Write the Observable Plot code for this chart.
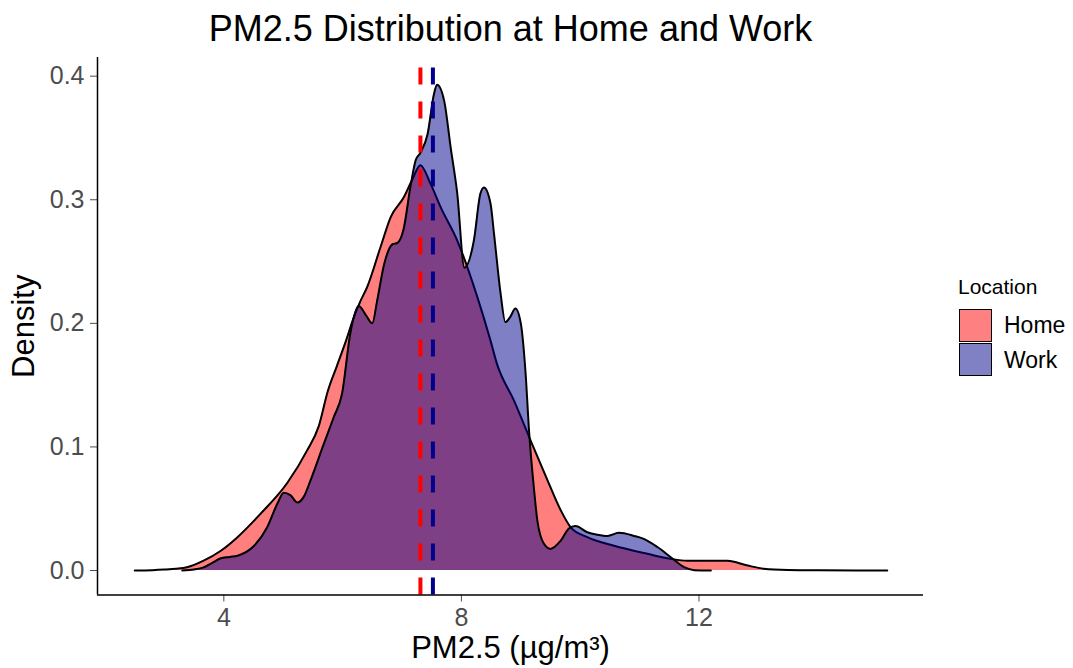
<!DOCTYPE html>
<html>
<head>
<meta charset="utf-8">
<script src="https://cdn.jsdelivr.net/npm/d3@7"></script>
<script src="https://cdn.jsdelivr.net/npm/@observablehq/plot@0.6"></script>
<style>
  html, body { margin: 0; padding: 0; background: #fff; }
  #wrap { position: relative; width: 1073px; height: 668px; font-family: "Liberation Sans", Arial, sans-serif; }
  #legend-title { position: absolute; left: 958px; top: 276px; font-size: 21px; line-height: 21px; color: #000; }
  .sw { position: absolute; left: 959px; width: 33px; height: 33px; box-sizing: border-box; border: 1.5px solid #000; }
  .lab { position: absolute; left: 1004px; font-size: 23px; line-height: 23px; color: #000; }
</style>
</head>
<body>
<div id="wrap"></div>
<script>
// ---- Data ----
const locations = ["Home", "Work"];
const lineColors = ["#ff0000", "#00008b"];
const meanValues = [7.31, 7.52];

const homeX = [2.5, 2.8, 3.0, 3.2, 3.38, 3.66, 3.95, 4.23, 4.62, 5.07, 5.40, 5.60, 5.75, 5.90, 6.05, 6.19, 6.30, 6.41, 6.64, 6.81, 7.03, 7.17, 7.31, 7.48, 7.65, 7.93, 8.27, 8.49, 8.60, 8.88, 9.15, 9.45, 9.67, 9.84, 10.12, 10.57, 11.13, 11.52, 11.80, 12.25, 12.48, 12.82, 13.09, 13.5, 14.0, 15.17];
const homeDensity = [0, 0.0003, 0.0008, 0.0015, 0.0027, 0.008, 0.016, 0.027, 0.046, 0.071, 0.097, 0.117, 0.145, 0.165, 0.185, 0.205, 0.218, 0.229, 0.262, 0.286, 0.302, 0.316, 0.328, 0.313, 0.294, 0.267, 0.221, 0.186, 0.167, 0.138, 0.107, 0.073, 0.049, 0.035, 0.027, 0.020, 0.0135, 0.0095, 0.008, 0.008, 0.008, 0.004, 0.0015, 0.0005, 0.0002, 0];

const workX = [3.3, 3.5, 3.66, 3.80, 3.94, 4.10, 4.23, 4.51, 4.73, 4.90, 5.01, 5.12, 5.24, 5.35, 5.46, 5.68, 5.85, 5.99, 6.13, 6.27, 6.40, 6.50, 6.58, 6.70, 6.84, 6.92, 7.03, 7.14, 7.23, 7.31, 7.43, 7.54, 7.59, 7.71, 7.82, 7.93, 8.05, 8.21, 8.32, 8.38, 8.49, 8.55, 8.66, 8.74, 8.82, 8.91, 9.00, 9.08, 9.14, 9.22, 9.28, 9.39, 9.50, 9.67, 9.81, 9.92, 10.12, 10.29, 10.46, 10.65, 10.91, 11.07, 11.30, 11.52, 11.75, 11.92, 12.2];
const workDensity = [0, 0.0008, 0.0025, 0.006, 0.0097, 0.011, 0.012, 0.020, 0.035, 0.054, 0.063, 0.061, 0.055, 0.060, 0.073, 0.102, 0.124, 0.143, 0.192, 0.214, 0.206, 0.200, 0.218, 0.248, 0.264, 0.265, 0.277, 0.310, 0.332, 0.338, 0.353, 0.386, 0.393, 0.380, 0.342, 0.305, 0.245, 0.267, 0.305, 0.310, 0.297, 0.272, 0.224, 0.201, 0.205, 0.212, 0.200, 0.160, 0.112, 0.067, 0.040, 0.0216, 0.0175, 0.024, 0.034, 0.036, 0.031, 0.029, 0.028, 0.0305, 0.028, 0.0256, 0.019, 0.011, 0.0027, 0.0003, 0];

const xTicks = [4, 8, 12];
const yTicks = [0, 0.1, 0.2, 0.3, 0.4];
const xDomain = [1.873, 15.78];
const yDomain = [-0.0198, 0.4151];

const titleText = "PM2.5 Distribution at Home and Work";
const xLabel = "PM2.5 (\u00b5g/m\u00b3)";
const yLabel = "Density";
const legendTitle = "Location";

// ---- Build tables ----
const home = homeX.map((x, i) => ({x, y: homeDensity[i], loc: "Home"}));
const work = workX.map((x, i) => ({x, y: workDensity[i], loc: "Work"}));
const means = locations.map((loc, i) => ({loc, value: meanValues[i]}));

const fillFor = {Home: lineColors[0], Work: lineColors[1]};

const chart = Plot.plot({
  width: 1073,
  height: 668,
  marginLeft: 97,
  marginRight: 150,
  marginTop: 57,
  marginBottom: 73.5,
  style: {fontFamily: "'Liberation Sans', Arial, sans-serif", fontSize: "25px", color: "#4d4d4d", background: "white"},
  x: {domain: xDomain, ticks: xTicks, tickFormat: d3.format("d"), tickSize: 7, tickPadding: 6.5, label: null},
  y: {domain: yDomain, ticks: yTicks, tickFormat: d3.format(".1f"), tickSize: 7, tickPadding: 6, label: null},
  color: {domain: locations, range: lineColors},
  marks: [
    Plot.areaY(home, {x: "x", y: "y", fill: fillFor.Home, fillOpacity: 0.5, curve: "monotone-x"}),
    Plot.lineY(home, {x: "x", y: "y", stroke: "black", strokeWidth: 2, curve: "monotone-x"}),
    Plot.areaY(work, {x: "x", y: "y", fill: fillFor.Work, fillOpacity: 0.5, curve: "monotone-x"}),
    Plot.lineY(work, {x: "x", y: "y", stroke: "black", strokeWidth: 2, curve: "monotone-x"}),
    Plot.ruleX(means, {x: "value", y1: () => yDomain[0], y2: () => yDomain[1], stroke: "loc", strokeWidth: 4, strokeDasharray: "17,17"}),
    Plot.ruleX([xDomain[0]], {stroke: "black", strokeWidth: 1.5}),
    Plot.ruleY([yDomain[0]], {stroke: "black", strokeWidth: 1.5}),
    Plot.text([titleText], {frameAnchor: "top", dy: -28, fontSize: 36, fill: "black", textAnchor: "middle", lineAnchor: "middle"}),
    Plot.text([xLabel], {frameAnchor: "bottom", dy: 53, fontSize: 31, fill: "black", textAnchor: "middle", lineAnchor: "middle"}),
    Plot.text([yLabel], {frameAnchor: "left", dx: -73, rotate: -90, fontSize: 31, fill: "black", textAnchor: "middle", lineAnchor: "middle"})
  ]
});

const wrap = document.getElementById("wrap");
wrap.appendChild(chart);

const lt = document.createElement("div");
lt.id = "legend-title";
lt.textContent = legendTitle;
wrap.appendChild(lt);

const swTops = [309, 343];
const labTops = [314, 348.5];
locations.forEach((loc, i) => {
  const sw = document.createElement("div");
  sw.className = "sw";
  sw.style.top = swTops[i] + "px";
  sw.style.background = d3.interpolateRgb("white", lineColors[i])(0.5);
  wrap.appendChild(sw);
  const lab = document.createElement("div");
  lab.className = "lab";
  lab.style.top = labTops[i] + "px";
  lab.textContent = loc;
  wrap.appendChild(lab);
});
</script>
</body>
</html>
